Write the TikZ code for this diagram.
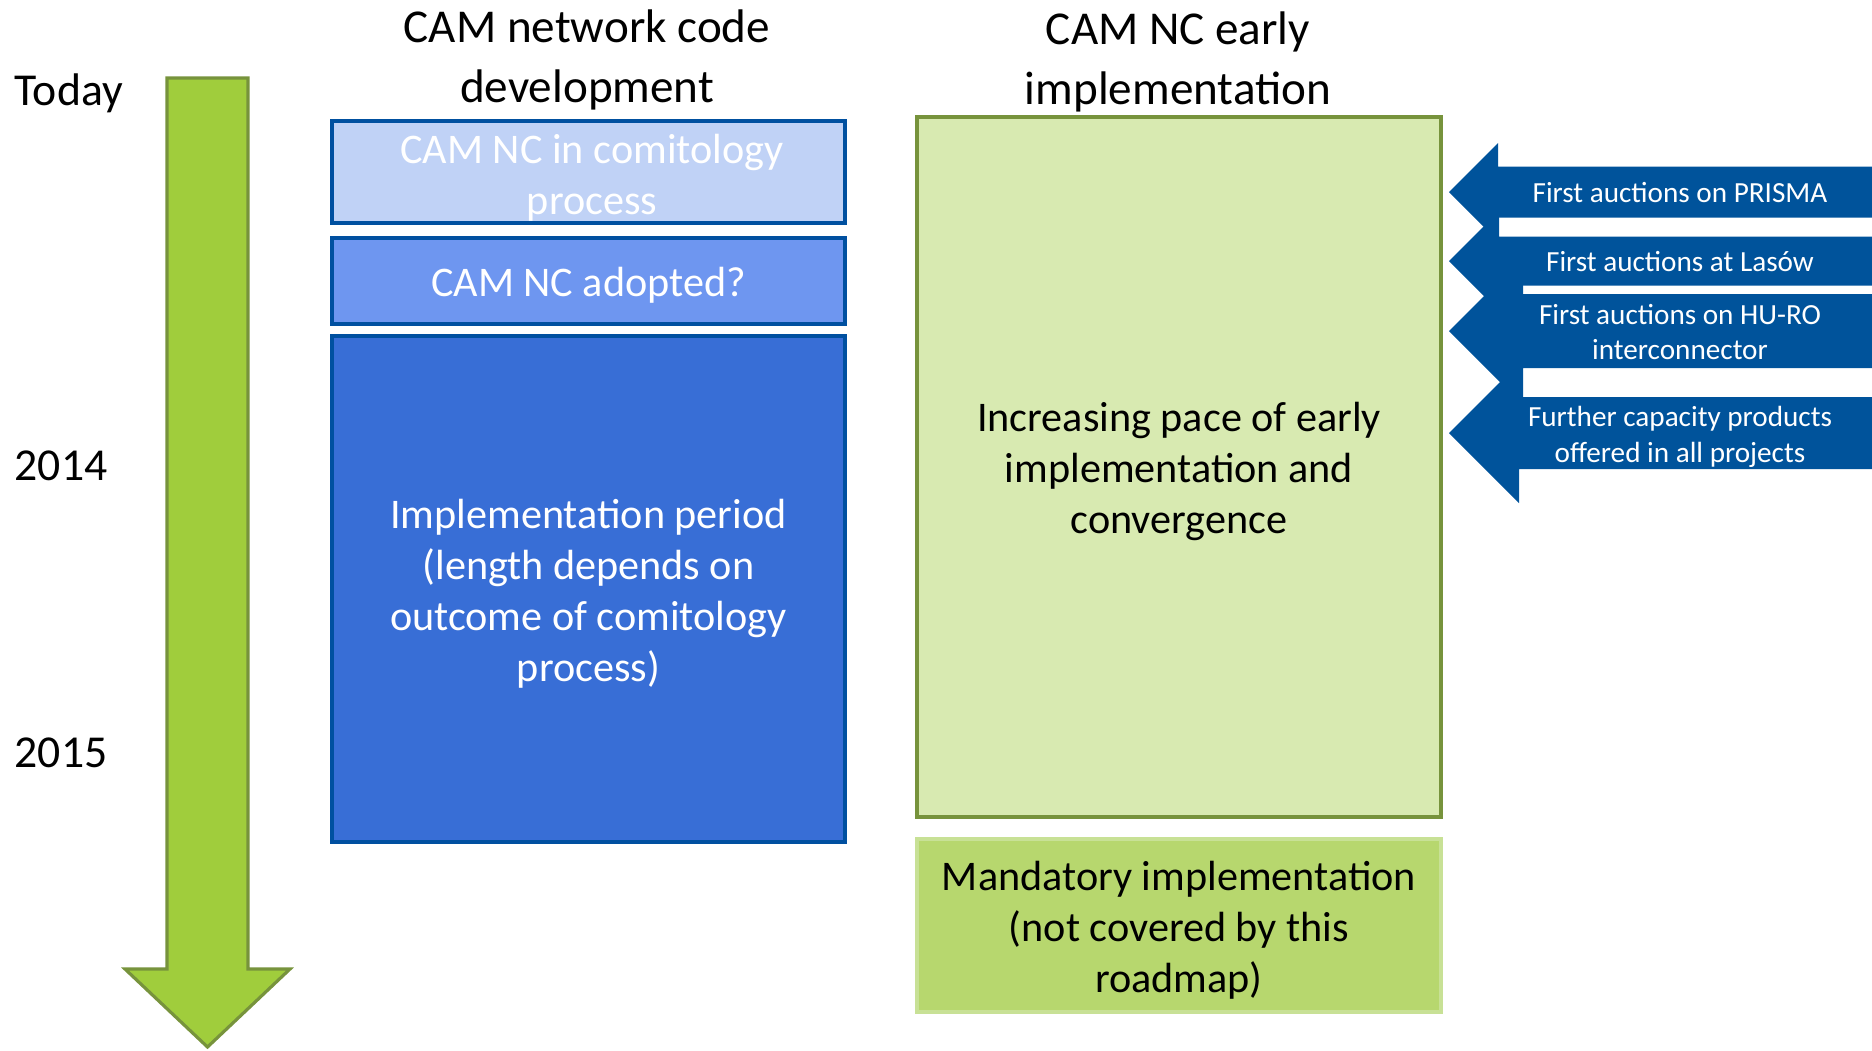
\documentclass[tikz,border=0pt]{standalone}
\usepackage{fontspec}
\setmainfont{Carlito}
\usetikzlibrary{positioning}
\definecolor{colorTime}{RGB}{160,205,60}
\definecolor{colorTimeLine}{RGB}{119,147,60}
\definecolor{colorCom}{RGB}{192,210,246}
\definecolor{colorAdopt}{RGB}{110,150,240}
\definecolor{colorImpl}{RGB}{56,110,214}
\definecolor{colorDevLine}{RGB}{0,80,160}
\definecolor{colorEarly}{RGB}{216,234,177}
\definecolor{colorMand}{RGB}{183,215,110}
\definecolor{colorMandLine}{RGB}{200,225,150}
\definecolor{colorAuct}{RGB}{0,83,155}
\tikzset{
   head/.style={align=center,font=\fontsize{13.4}{17}\selectfont},
   year/.style={anchor=west,font=\fontsize{13}{16}\selectfont,inner sep=0pt},
   devbox/.style={draw=colorDevLine,line width=1.3pt,minimum width=5.13cm,inner sep=0pt},
   devtext/.style={text=white,align=center,font=\fontsize{12}{14.5}\selectfont,inner sep=0pt},
   earlybox/.style={line width=1.2pt,minimum width=5.24cm,inner sep=0pt},
   earlytext/.style={align=center,font=\fontsize{12}{14.5}\selectfont,inner sep=0pt},
   auctlabel/.style={text=white,align=center,font=\fontsize{8.3}{10.2}\selectfont,inner sep=0pt},
}
% #1 name, #2 tip y, #3 head half height, #4 body half height, #5 text, #6 text shift
\newcommand{\auct}[6]{%
   \fill[colorAuct] (1449,#2) -- ++(#3,-#3) -- ++(0,#3-#4) -- (1872,#2-#4)
      -- (1872,#2+#4) -- (1449+#3,#2+#4) -- ++(0,#3-#4) -- cycle;
   \node[auctlabel] (#1) at (1680,#2+#6) {#5};
}
\begin{document}
\begin{tikzpicture}[x=0.01cm,y=-0.01cm]
   \useasboundingbox (0,0) rectangle (1872,1050);

   \filldraw[fill=colorTime,draw=colorTimeLine,line width=0.9pt]
      (167,78) -- (248,78) -- (248,969) -- (290,969) -- (207.5,1047)
      -- (125,969) -- (167,969) -- cycle;
   \node[year] (today) at (14,93) {Today};
   \node[year] (y2014) at (14,466) {2014};
   \node[year] (y2015) at (14,753) {2015};

   \node[head] (devhead) at (587,60) {CAM network code\\development};
   \node[head] (earlyhead) at (1178,62) {CAM NC early\\implementation};

   \node[devbox,fill=colorCom,minimum height=1.02cm] (com) at (588.5,172) {};
   \node[devbox,fill=colorAdopt,minimum height=0.86cm] (adopt) at (588.5,281) {};
   \node[devbox,fill=colorImpl,minimum height=5.06cm] (impl) at (588.5,589) {};
   \node[devtext] (comtext) at (592,178) {CAM NC in comitology\\process};
   \node[devtext] (adopttext) at (588.5,285.5) {CAM NC adopted?};
   \node[devtext] (impltext) at (588.5,593.5)
      {Implementation period\\(length depends on\\outcome of comitology\\process)};

   \node[earlybox,draw=colorTimeLine,fill=colorEarly,minimum height=7cm] (early) at (1179,467) {};
   \node[earlybox,draw=colorMandLine,fill=colorMand,minimum height=1.73cm] (mand) at (1179,925.5) {};
   \node[earlytext] (earlytext) at (1179,471.5)
      {Increasing pace of early\\implementation and\\convergence};
   \node[earlytext] (mandtext) at (1179,930)
      {Mandatory implementation\\(not covered by this\\roadmap)};

   \auct{prisma}{192}{49}{25.5}{First auctions on PRISMA}{0}
   \auct{lasow}{261}{50}{24.5}{First auctions at Lasów}{0}
   \auct{huro}{331}{74}{37}{First auctions on HU-RO\\interconnector}{1}
   \auct{further}{433}{70}{36}{Further capacity products\\offered in all projects}{4}
\end{tikzpicture}
\end{document}
